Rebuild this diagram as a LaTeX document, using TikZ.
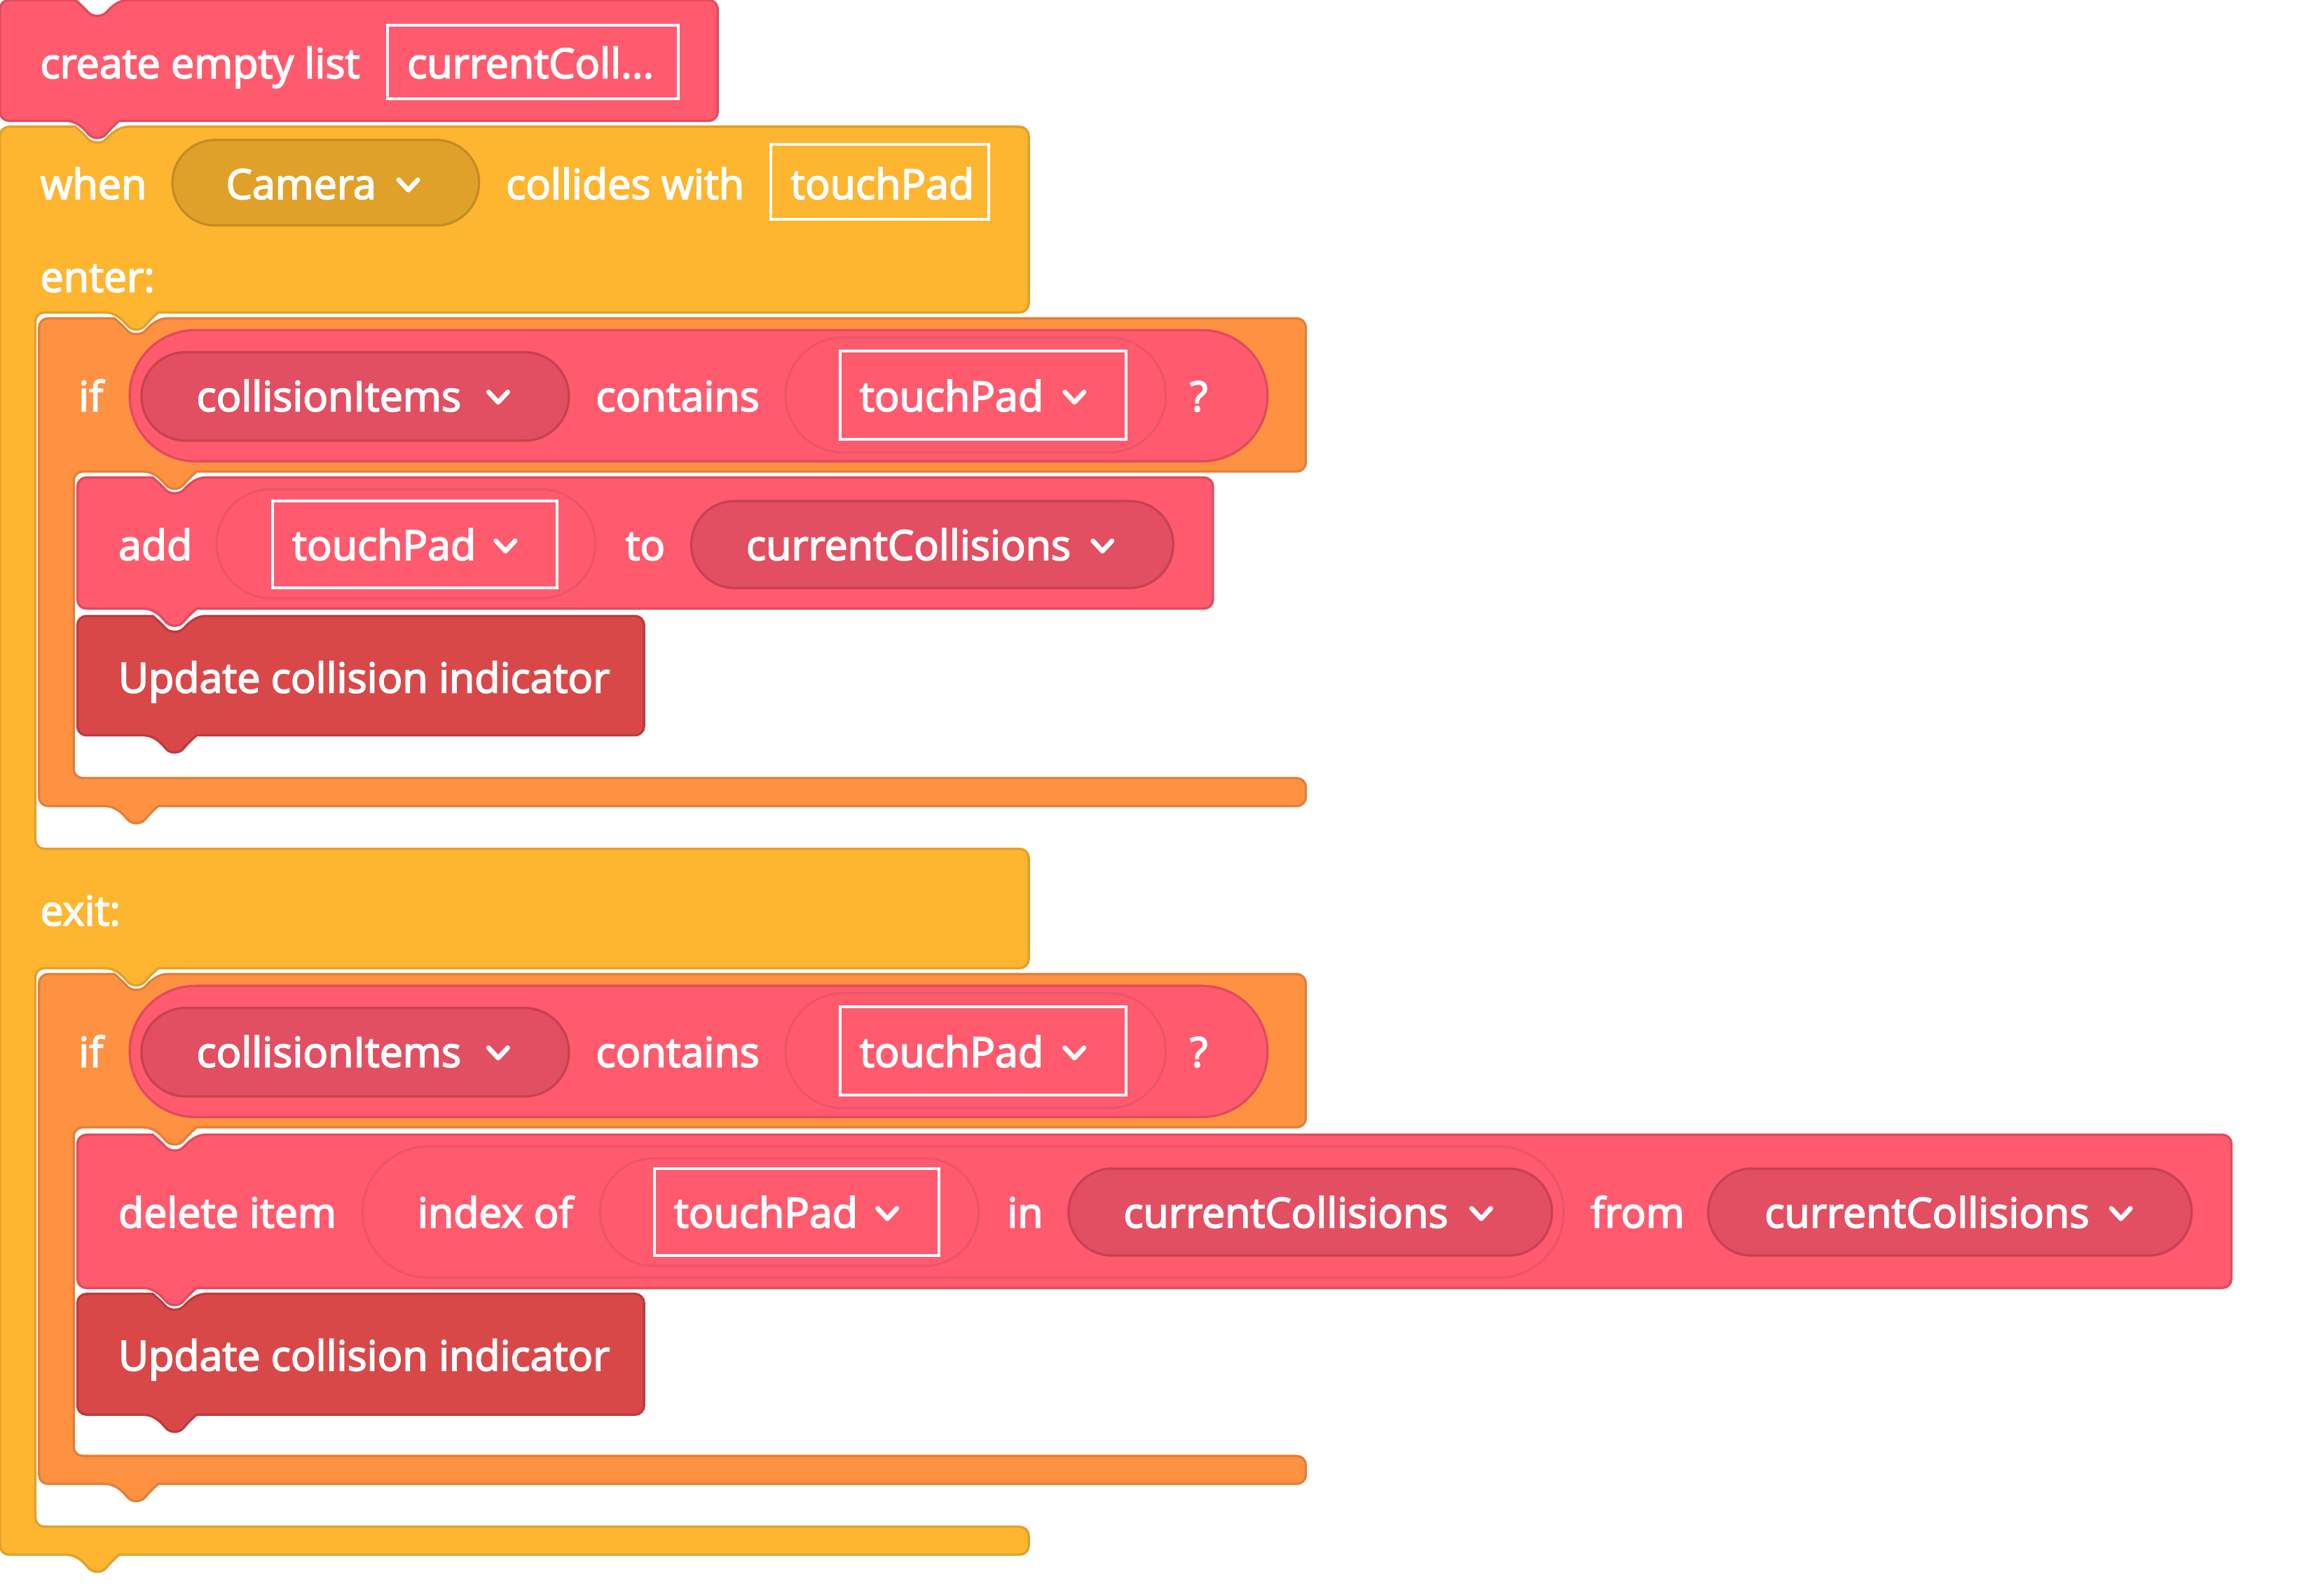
\documentclass[tikz,border=0pt]{standalone}
\usepackage{fontspec}
\newfontfamily\blockfont{Open Sans}[FakeBold=3]
\usetikzlibrary{calc}

\definecolor{redblock}{HTML}{FF5A6E}
\definecolor{redline}{HTML}{E04B5E}
\definecolor{redpill}{HTML}{E24F62}
\definecolor{redpillline}{HTML}{C84153}
\definecolor{redshadow}{HTML}{E8566A}
\definecolor{funcblock}{HTML}{D94849}
\definecolor{funcline}{HTML}{BC3B3F}
\definecolor{ifblock}{HTML}{FF9142}
\definecolor{ifline}{HTML}{E27F38}
\definecolor{eventblock}{HTML}{FEB530}
\definecolor{eventline}{HTML}{E1A029}
\definecolor{eventpill}{HTML}{E0A12A}
\definecolor{eventpillline}{HTML}{C48C24}

\tikzset{
  lbl/.style={text=white, anchor=base west, inner sep=0pt, font=\blockfont\fontsize{16}{19}\selectfont},
  blk/.style={rounded corners=3.5pt, line width=0.9pt},
  redb/.style={blk, fill=redblock, draw=redline},
  funcb/.style={blk, fill=funcblock, draw=funcline},
  ifb/.style={blk, fill=ifblock, draw=ifline},
  eventb/.style={blk, fill=eventblock, draw=eventline},
  condb/.style={fill=redblock, draw=redline, line width=0.9pt},
  varb/.style={fill=redpill, draw=redpillline, line width=0.9pt},
  shadowb/.style={fill=redblock, draw=redshadow, line width=0.8pt},
  eventpillb/.style={fill=eventpill, draw=eventpillline, line width=0.9pt},
  fieldbox/.style={draw=white, line width=1.1pt},
  chevron/.style={draw=white, line width=1.8pt, line cap=round, line join=round}
}

\newcommand\blocknotch[2]{-- ({#1-21},{#2}) [sharp corners] .. controls ({#1-15},{#2}) and ({#1-10},{#2+4}) .. ({#1-6},{#2+8.5}) .. controls ({#1-3},{#2+11.5}) and ({#1+3},{#2+11.5}) .. ({#1+6},{#2+8.5}) .. controls ({#1+10},{#2+4}) and ({#1+15},{#2}) .. ({#1+21},{#2}) [rounded corners=3.5pt]}
\newcommand\blocktab[2]{-- ({#1+21},{#2}) [sharp corners] .. controls ({#1+15},{#2}) and ({#1+10},{#2+4}) .. ({#1+6},{#2+9}) .. controls ({#1+3},{#2+12.5}) and ({#1-3},{#2+12.5}) .. ({#1-6},{#2+9}) .. controls ({#1-10},{#2+4}) and ({#1-15},{#2}) .. ({#1-21},{#2}) [rounded corners=3.5pt]}
\newcommand\stackblock[5]{\path[#1] (#2,#3) \blocknotch{#2+66}{#3} -- (#4,#3) -- (#4,#5) \blocktab{#2+66}{#5} -- (#2,#5) -- cycle;}
\newcommand\ifblockpath[6]{\path[#1] (#2,#3) \blocknotch{#2+66}{#3} -- (#4,#3) -- (#4,#5) \blocktab{#2+92}{#5} -- ({#2+23.5},#5) -- ({#2+23.5},#6) -- (#4,#6) -- (#4,{#6+19}) \blocktab{#2+66}{#6+19} -- (#2,{#6+19}) -- cycle;}
\newcommand\blockpill[5]{\pgfmathsetlengthmacro\pillrad{(#5-#3)*0.01cm}\path[#1, rounded corners=\pillrad] (#2,#3) rectangle (#4,#5);}
\newcommand\dropchev[2]{\draw[chevron] ({#1-6.5},{#2-3}) -- ({#1},{#2+4}) -- ({#1+6.5},{#2-3});}

\begin{document}
\begin{tikzpicture}[x=0.02cm, y=-0.02cm]
\useasboundingbox (0,0) rectangle (1568,1083);

% event block
\path[eventb] (0,86) \blocknotch{66}{86} -- (698,86) -- (698,212) \blocktab{92.5}{212} -- (24,212) -- (24,576) -- (698,576) -- (698,657) \blocktab{92.5}{657} -- (24,657) -- (24,1036) -- (698,1036) -- (698,1055) \blocktab{66}{1055} -- (0,1055) -- cycle;
\stackblock{redb}{0}{0}{487}{82}
\ifblockpath{ifb}{26.5}{216}{886}{320}{528}
\ifblockpath{ifb}{26.5}{661}{886}{765}{988}
\stackblock{redb}{52.5}{324}{823}{413}
\stackblock{funcb}{52.5}{418}{437}{499}
\stackblock{redb}{52.5}{770}{1514}{874}
\stackblock{funcb}{52.5}{878}{437}{960}

% create list
\node[lbl] (createlbl) at (27,53) {create empty list};
\draw[fieldbox] (263,17) rectangle (460,67);
\node[lbl] (listlbl) at (276,53) {currentColl...};

% when
\node[lbl] (whenlbl) at (27,135) {when};
\blockpill{eventpillb}{117}{95}{325}{153}
\node[lbl] (cameralbl) at (153,135) {Camera};
\dropchev{277}{125}
\node[lbl] (collideslbl) at (343,135) {collides with};
\draw[fieldbox] (523,98) rectangle (671,149);
\node[lbl] (targetlbl) at (536,135) {touchPad};
\node[lbl] (enterlbl) at (27,198) {enter:};
\node[lbl] (exitlbl) at (27,628) {exit:};

% if (enter)
\node[lbl] (iflbla) at (53,279) {if};
\blockpill{condb}{88}{224}{860}{313}
\blockpill{varb}{96}{239}{386}{299}
\node[lbl] (itemslbla) at (133,279) {collisionItems};
\dropchev{338}{269}
\node[lbl] (containslbla) at (404,279) {contains};
\blockpill{shadowb}{533}{229}{791}{307}
\draw[fieldbox] (570,238) rectangle (764,298);
\node[lbl] (padlbla) at (583,279) {touchPad};
\dropchev{729}{269}
\node[lbl] (qlbla) at (807,279) {?};

% add
\node[lbl] (addlbl) at (80,380) {add};
\blockpill{shadowb}{147}{332}{404}{406}
\draw[fieldbox] (185,340) rectangle (378,399);
\node[lbl] (padlblb) at (198,380) {touchPad};
\dropchev{343}{370}
\node[lbl] (tolbl) at (424,380) {to};
\blockpill{varb}{469}{340}{796}{399}
\node[lbl] (listlbla) at (506,380) {currentCollisions};
\dropchev{748}{370}
\node[lbl] (updatelbla) at (80,470) {Update collision indicator};

% if (exit)
\node[lbl] (iflblb) at (53,724) {if};
\blockpill{condb}{88}{669}{860}{758}
\blockpill{varb}{96}{684}{386}{744}
\node[lbl] (itemslblb) at (133,724) {collisionItems};
\dropchev{338}{714}
\node[lbl] (containslblb) at (404,724) {contains};
\blockpill{shadowb}{533}{674}{791}{752}
\draw[fieldbox] (570,683) rectangle (764,743);
\node[lbl] (padlblc) at (583,724) {touchPad};
\dropchev{729}{714}
\node[lbl] (qlblb) at (807,724) {?};

% delete
\node[lbl] (deletelbl) at (80,833) {delete item};
\blockpill{shadowb}{246}{778}{1061}{867}
\node[lbl] (indexlbl) at (283,833) {index of};
\blockpill{shadowb}{407}{786}{664}{859}
\draw[fieldbox] (444,793) rectangle (637,852);
\node[lbl] (padlbld) at (457,833) {touchPad};
\dropchev{602}{823}
\node[lbl] (inlbl) at (683,833) {in};
\blockpill{varb}{725}{793}{1053}{852}
\node[lbl] (listlblb) at (762,833) {currentCollisions};
\dropchev{1005}{823}
\node[lbl] (fromlbl) at (1079,833) {from};
\blockpill{varb}{1159}{793}{1487}{852}
\node[lbl] (listlblc) at (1197,833) {currentCollisions};
\dropchev{1439}{823}
\node[lbl] (updatelblb) at (80,930) {Update collision indicator};
\end{tikzpicture}
\end{document}
